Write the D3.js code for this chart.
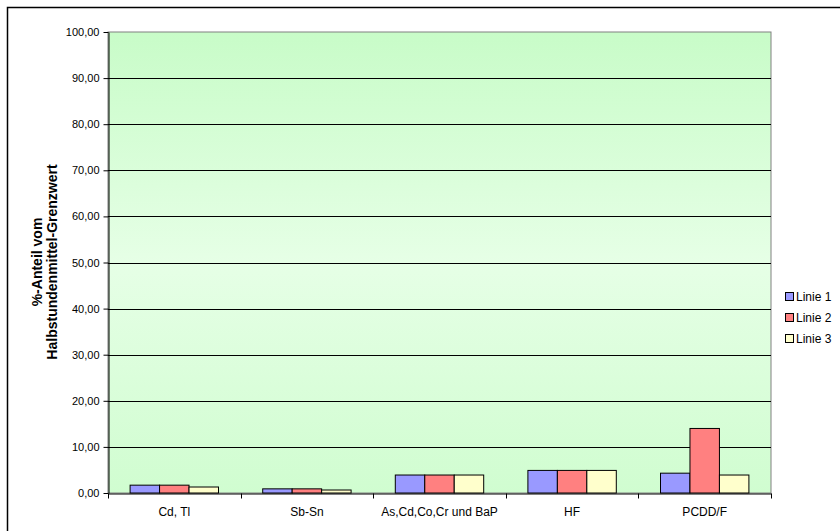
<html>
  <head>
    <meta charset="utf-8">
    <style>
      body { margin: 0; background: #fff; }
      svg text { font-family: "Liberation Sans", Arial, sans-serif; fill: #000; }
      .yaxis text { font-size: 11px; }
      .xaxis text { font-size: 12px; }
      .legend text { font-size: 12px; }
      .ytitle { font-size: 14px; font-weight: bold; }
    </style>
  </head>
<body>
  <svg width="840" height="531"></svg>
  <script src="https://d3js.org/d3.v7.min.js"></script>
  <script>
    var categories = ["Cd, Tl", "Sb-Sn", "As,Cd,Co,Cr und BaP", "HF", "PCDD/F"];
    var seriesNames = ["Linie 1", "Linie 2", "Linie 3"];
    var linie1 = [1.7, 0.9, 3.9, 4.9, 4.3];
    var linie2 = [1.7, 0.9, 3.9, 4.9, 14.0];
    var linie3 = [1.3, 0.65, 3.9, 4.9, 3.9];
    var yTicks = [0, 10, 20, 30, 40, 50, 60, 70, 80, 90, 100];
    var colors = ["#9999ff", "#ff8080", "#ffffcc"];

    var values = [linie1, linie2, linie3];
    var svg = d3.select("svg");

    // outer chart border (only top/left visible)
    svg.append("rect")
      .attr("x", 7.5).attr("y", 7.5)
      .attr("width", 900).attr("height", 600)
      .attr("fill", "none").attr("stroke", "#000").attr("stroke-width", 1.5);

    var pLeft = 108, pRight = 771, pTop = 32, pBottom = 493;

    var x = d3.scaleBand().domain(categories).range([pLeft, pRight]);
    // excel gap width 50%: group takes 2/3 of band
    var x1 = d3.scaleBand().domain(d3.range(3))
      .range([x.bandwidth() / 6, x.bandwidth() * 5 / 6]);
    var y = d3.scaleLinear().domain([0, 100]).range([pBottom, pTop]);

    var defs = svg.append("defs");
    var grad = defs.append("linearGradient").attr("id", "bg")
      .attr("x1", 0).attr("y1", 0).attr("x2", 0).attr("y2", 1);
    grad.append("stop").attr("offset", "0%").attr("stop-color", "#c8fcc8");
    grad.append("stop").attr("offset", "50%").attr("stop-color", "#e6ffe6");
    grad.append("stop").attr("offset", "100%").attr("stop-color", "#d0fdd0");

    svg.append("rect")
      .attr("x", pLeft).attr("y", pTop)
      .attr("width", pRight - pLeft).attr("height", pBottom - pTop)
      .attr("fill", "url(#bg)").attr("stroke", "#808080").attr("stroke-width", 1);

    // gridlines
    svg.append("g").selectAll("line")
      .data(yTicks.filter(function (d) { return d > 0 && d < 100; }))
      .enter().append("line")
      .attr("x1", pLeft).attr("x2", pRight)
      .attr("y1", function (d) { return Math.round(y(d)) + 0.5; })
      .attr("y2", function (d) { return Math.round(y(d)) + 0.5; })
      .attr("stroke", "#000");

    // bars
    var group = svg.append("g").selectAll("g")
      .data(categories)
      .enter().append("g")
      .attr("transform", function (d) { return "translate(" + x(d) + ",0)"; });

    group.selectAll("rect")
      .data(function (d, i) { return values.map(function (s, j) { return {s: j, v: s[i]}; }); })
      .enter().append("rect")
      .attr("x", function (d) { return x1(d.s); })
      .attr("width", x1.bandwidth())
      .attr("y", function (d) { return y(d.v); })
      .attr("height", function (d) { return pBottom - y(d.v); })
      .attr("fill", function (d) { return colors[d.s]; })
      .attr("stroke", "#000").attr("stroke-width", 1);

    // y axis
    var yAxis = svg.append("g")
      .attr("class", "yaxis")
      .attr("transform", "translate(" + (pLeft + 0.5) + ",0)")
      .call(d3.axisLeft(y).tickValues(yTicks).tickSize(5).tickSizeOuter(0)
        .tickFormat(function (d) { return d3.format(".2f")(d).replace(".", ","); }));
    yAxis.select(".domain").attr("stroke", "#000");
    yAxis.selectAll("text").attr("dx", "-1");

    // x axis
    var xAxis = svg.append("g")
      .attr("class", "xaxis")
      .attr("transform", "translate(0," + (pBottom + 0.5) + ")")
      .call(d3.axisBottom(x).tickSize(0).tickSizeOuter(0));
    xAxis.select(".domain").attr("stroke", "#000");
    xAxis.selectAll("text").attr("y", 22).attr("dy", 0);
    xAxis.selectAll(".sep")
      .data(categories.concat([null]))
      .enter().append("line")
      .attr("x1", function (d, i) { return Math.round(pLeft + i * x.bandwidth()) + 0.5; })
      .attr("x2", function (d, i) { return Math.round(pLeft + i * x.bandwidth()) + 0.5; })
      .attr("y1", 0).attr("y2", 5)
      .attr("stroke", "#000");

    // y title
    var yt = svg.append("text")
      .attr("class", "ytitle")
      .attr("text-anchor", "middle")
      .attr("transform", "translate(42,262) rotate(-90)");
    yt.append("tspan").attr("x", 0).attr("y", 0).text("%-Anteil vom");
    yt.append("tspan").attr("x", 0).attr("y", 15).text("Halbstundenmittel-Grenzwert");

    // legend
    var legend = svg.append("g").attr("class", "legend")
      .attr("transform", "translate(785,292)");
    var li = legend.selectAll("g").data(seriesNames).enter().append("g")
      .attr("transform", function (d, i) { return "translate(0," + (i * 21) + ")"; });
    li.append("rect")
      .attr("x", 0.5).attr("y", 0.5).attr("width", 8).attr("height", 8)
      .attr("fill", function (d, i) { return colors[i]; })
      .attr("stroke", "#000");
    li.append("text").attr("x", 11).attr("y", 9).text(function (d) { return d; });
  </script>
</body>
</html>
